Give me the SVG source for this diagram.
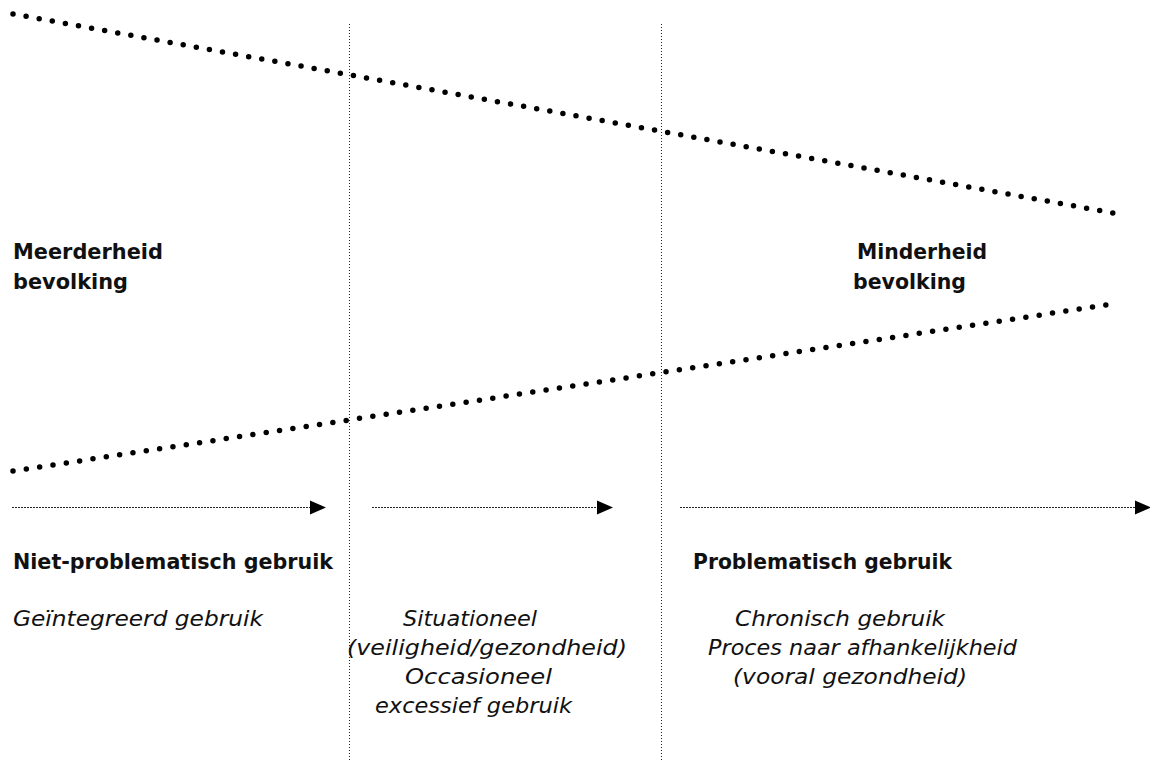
<svg xmlns="http://www.w3.org/2000/svg" width="1150" height="762" viewBox="0 0 1150 762">
  <style>
    .bg { fill: #ffffff; }
    .trend { fill: none; stroke: #000; stroke-width: 5.5; stroke-linecap: round; }
    .divider { fill: none; stroke: #222; stroke-width: 1; stroke-dasharray: 1 2; }
    .flow { fill: none; stroke: #222; stroke-width: 1; stroke-dasharray: 2 1; }
    .head { fill: #000; }
    text { font-family: "DejaVu Sans", "Liberation Sans", sans-serif; fill: #111; }
    .b { font-weight: bold; font-size: 20.5px; }
    .i { font-style: italic; font-size: 21px; }
  </style>
  <rect class="bg" x="0" y="0" width="1150" height="762"/>

  <!-- column dividers -->
  <g id="dividers">
    <line class="divider" x1="349.5" y1="24" x2="349.5" y2="762"/>
    <line class="divider" x1="661.5" y1="24" x2="661.5" y2="762"/>
  </g>

  <!-- converging population trend lines -->
  <g id="trends">
    <line class="trend" x1="13" y1="14" x2="1113" y2="213" stroke-dasharray="0 13.305"/>
    <line class="trend" x1="13" y1="471" x2="1106" y2="305" stroke-dasharray="0 13.48"/>
  </g>

  <!-- connectors: progression arrows -->
  <g id="connectors">
    <line class="flow" x1="12" y1="507.5" x2="311" y2="507.5"/>
    <polygon class="head" points="310,500.5 326,507.5 310,514.5"/>
    <line class="flow" x1="372" y1="507.5" x2="598" y2="507.5"/>
    <polygon class="head" points="597,500.5 613,507.5 597,514.5"/>
    <line class="flow" x1="680" y1="507.5" x2="1136" y2="507.5"/>
    <polygon class="head" points="1135,500.5 1151,507.5 1135,514.5"/>
  </g>

  <g id="majority">
    <text class="b" x="13" y="259" textLength="150" lengthAdjust="spacingAndGlyphs">Meerderheid</text>
    <text class="b" x="13" y="289" textLength="115" lengthAdjust="spacingAndGlyphs">bevolking</text>
  </g>

  <g id="minority">
    <text class="b" x="857" y="259" textLength="130" lengthAdjust="spacingAndGlyphs">Minderheid</text>
    <text class="b" x="853" y="289" textLength="113" lengthAdjust="spacingAndGlyphs">bevolking</text>
  </g>

  <g id="non-problematic">
    <text class="b" x="13" y="569" textLength="320" lengthAdjust="spacingAndGlyphs">Niet-problematisch gebruik</text>
    <text class="i" x="13" y="626" textLength="250" lengthAdjust="spacingAndGlyphs">Geïntegreerd gebruik</text>
  </g>

  <g id="situational">
    <text class="i" x="403" y="626" textLength="134" lengthAdjust="spacingAndGlyphs">Situationeel</text>
    <text class="i" x="347" y="655" textLength="280" lengthAdjust="spacingAndGlyphs">(veiligheid/gezondheid)</text>
    <text class="i" x="405" y="684" textLength="147" lengthAdjust="spacingAndGlyphs">Occasioneel</text>
    <text class="i" x="375" y="713" textLength="197" lengthAdjust="spacingAndGlyphs">excessief gebruik</text>
  </g>

  <g id="problematic">
    <text class="b" x="693" y="569" textLength="259" lengthAdjust="spacingAndGlyphs">Problematisch gebruik</text>
    <text class="i" x="735" y="626" textLength="210" lengthAdjust="spacingAndGlyphs">Chronisch gebruik</text>
    <text class="i" x="708" y="655" textLength="309" lengthAdjust="spacingAndGlyphs">Proces naar afhankelijkheid</text>
    <text class="i" x="733" y="684" textLength="234" lengthAdjust="spacingAndGlyphs">(vooral gezondheid)</text>
  </g>
</svg>
